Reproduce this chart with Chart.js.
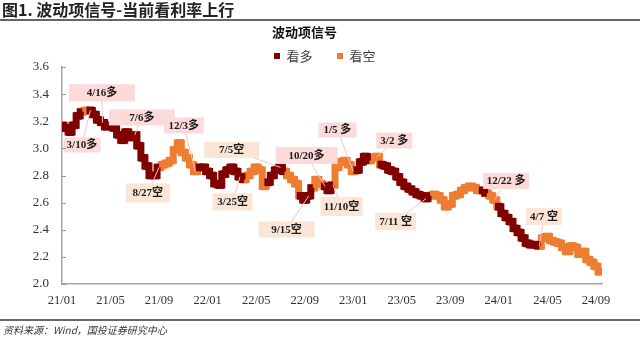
<!DOCTYPE html>
<html><head><meta charset="utf-8">
<script src="https://cdn.jsdelivr.net/npm/chart.js@4"></script>
<style>
html,body{margin:0;padding:0;background:#fff;}
#wrap{position:relative;width:640px;height:338px;overflow:hidden;}
#c{position:absolute;left:0;top:0;}
#pt{position:absolute;left:2px;top:0px;font:bold 16px 'Noto Sans CJK SC',sans-serif;line-height:18px;color:#222;white-space:nowrap;}
#ptl{position:absolute;left:0;top:19px;width:640px;height:2px;background:#666;}
#ct{position:absolute;left:0;width:609px;top:23px;text-align:center;font:bold 13px 'Noto Sans CJK SC',sans-serif;line-height:17px;color:#111;}
#fl{position:absolute;left:0;top:319px;width:640px;height:2px;background:#666;}
#ft{position:absolute;left:3px;top:323px;font:italic 10px 'Noto Sans CJK SC',sans-serif;line-height:13px;color:#333;white-space:nowrap;}
</style></head>
<body>
<div id="wrap">
<canvas id="c" width="640" height="338"></canvas>
<div id="pt">图1. 波动项信号-当前看利率上行</div>
<div id="ptl"></div>
<div id="ct">波动项信号</div>
<div id="fl"></div>
<div id="ft">资料来源：Wind，国投证券研究中心</div>
</div>
<script>
// ---- data ----
const tickMonths = [0,4,8,12,16,20,24,28,32,36,40,44];
const tickLabels = ['21/01','21/05','21/09','22/01','22/05','22/09','23/01','23/05','23/09','24/01','24/05','24/09'];
// 10-day samples (1/3 month) starting 2021-01
const values = [
 3.17,3.15,3.12,3.17,3.24, 3.27,3.28, 3.28,3.25,3.21, 3.19,
 3.16,3.17,3.15,3.10,3.06,3.12,3.08, 3.10,
 3.02,2.93,2.87,2.80,2.80,
 2.86,2.88,2.89,2.91,2.99,3.04,2.97,2.93,2.88,2.83,
 2.86,2.86,2.83,2.80,2.74,2.73,2.81,2.84,2.86,2.83,2.79,
 2.77,2.80,2.83,2.86,2.84,2.72,
 2.75,2.80,2.84,2.86,
 2.83,2.80,2.77,2.74,
 2.65,2.62,2.65,
 2.71,2.77,2.74,
 2.72,2.69,
 2.73,2.86,2.90,2.91,2.88,2.83,
 2.84,2.90,2.94,
 2.91,2.93,2.94,
 2.88,2.87,2.84,2.83,2.79,2.75,2.72,2.70,2.68,2.66,2.65,2.63,
 2.65,2.66,2.65,2.62,2.57,2.59,2.65,2.66,2.69,2.71,2.72,2.71,2.69,
 2.69,
 2.67,2.65,2.62,
 2.57,2.52,2.49,2.46,2.41,2.38,2.34,2.30,2.29,2.29,
 2.28,2.34,2.35,2.32,2.31,2.30,2.27,2.24,2.28,2.27,2.22,2.24,2.18,2.16,2.13,2.09
];
// 1 = 看多, 0 = 看空
const signal = [
 1,1,1,1,1, 0,0, 1,1,1, 0,
 1,1,1,1,1,1,1, 0,
 1,1,1,1,1,
 0,0,0,0,0,0,0,0,0,0,
 1,1,1,1,1,1,1,1,1,1,1,
 0,0,0,0,0,0,
 1,1,1,1,
 0,0,0,0,
 1,1,1,
 0,0,0,
 1,1,
 0,0,0,0,0,0,
 1,1,1,
 0,0,0,
 1,1,1,1,1,1,1,1,1,1,1,1,
 0,0,0,0,0,0,0,0,0,0,0,0,0,
 1,
 0,0,0,
 1,1,1,1,1,1,1,1,1,1,
 0,0,0,0,0,0,0,0,0,0,0,0,0,0,0,0
];
const dates = values.map((_, i) => i / 3);
const seriesNames = ['看多', '看空'];

// annotation labels: text, data index of the signal, label centre (month, value)
const annotations = [
 {text:'3/10多',  i:7,   m:1.64,  v:3.025, w:37, h:15, kind:1},
 {text:'4/16多',  i:10,  m:3.29,  v:3.41,  w:66, h:17, kind:1},
 {text:'7/6多',   i:18,  m:6.58,  v:3.228, w:66, h:16, kind:1},
 {text:'12/3多',  i:33,  m:10.03, v:3.169, w:40, h:16, kind:1},
 {text:'8/27空',  i:24,  m:7.07,  v:2.671, w:44, h:19, kind:0},
 {text:'7/5空',   i:54,  m:13.98, v:2.988, w:55, h:16, kind:0},
 {text:'3/25空',  i:44,  m:14.06, v:2.605, w:40, h:17, kind:0},
 {text:'10/20多', i:65,  m:20.15, v:2.948, w:62, h:17, kind:1},
 {text:'9/15空',  i:61,  m:18.5,  v:2.402, w:56, h:16, kind:0},
 {text:'11/10空', i:67,  m:23.03, v:2.572, w:42, h:19, kind:0},
 {text:'1/5 多',  i:72,  m:22.7,  v:3.136, w:38, h:15, kind:1},
 {text:'3/2 多',  i:78,  m:27.38, v:3.058, w:36, h:16, kind:1},
 {text:'7/11 空', i:90,  m:27.5,  v:2.461, w:41, h:17, kind:0},
 {text:'12/22 多',i:107, m:36.6,  v:2.76,  w:46, h:16, kind:1},
 {text:'4/7 空',  i:118, m:39.72, v:2.498, w:36, h:17, kind:0}
];

const COL_LONG = '#800000';
const COL_SHORT = '#ED7D31';

// a regime's line runs on to the first sample of the next regime (no marker there)
function pts(flag){
  return values.map((v,i)=>{
    const own = signal[i]===flag;
    const tail = i>0 && signal[i-1]===flag;
    return {x:dates[i], y:(own||tail) ? v : null, own};
  });
}

const legendFit = {
  id:'legendFit',
  beforeUpdate(chart){
    const lg = chart.legend;
    if (lg && !lg._patched){
      const orig = lg.fit;
      lg.fit = function(){ orig.call(this); this.height = 42; };
      lg._patched = true;
    }
  },
  afterLayout(chart){
    const lg = chart.legend;
    if (lg){ lg.left = 47.5; lg.right = 602; }
  }
};

const innerTicks = {
  id:'innerTicks',
  afterDraw(chart){
    const {ctx, scales:{y}, chartArea} = chart;
    ctx.save();
    ctx.strokeStyle = '#999'; ctx.lineWidth = 1;
    y.ticks.forEach(t=>{
      const py = Math.round(y.getPixelForValue(t.value)) + 0.5;
      ctx.beginPath(); ctx.moveTo(chartArea.left, py); ctx.lineTo(chartArea.left+4, py); ctx.stroke();
    });
    ctx.restore();
  }
};

const labelPlugin = {
  id:'signalLabels',
  afterDatasetsDraw(chart){
    const {ctx, scales:{x,y}} = chart;
    ctx.save();
    annotations.forEach(a=>{
      const cx = x.getPixelForValue(a.m), cy = y.getPixelForValue(a.v);
      const px = x.getPixelForValue(dates[a.i]), py = y.getPixelForValue(values[a.i]);
      ctx.strokeStyle = '#F7C4C4'; ctx.lineWidth = 1;
      ctx.beginPath(); ctx.moveTo(cx, cy); ctx.lineTo(px, py); ctx.stroke();
    });
    annotations.forEach(a=>{
      const cx = x.getPixelForValue(a.m), cy = y.getPixelForValue(a.v);
      ctx.fillStyle = a.kind ? '#FDDADA' : '#FBE5D6';
      ctx.fillRect(cx - a.w/2, cy - a.h/2, a.w, a.h);
      ctx.fillStyle = '#1a1a1a';
      ctx.font = "bold 11px 'Liberation Serif','Noto Sans CJK SC'";
      ctx.textAlign = 'center'; ctx.textBaseline = 'middle';
      ctx.fillText(a.text, cx, cy + 0.5);
    });
    ctx.restore();
  }
};

function ds(name, flag, col){
  return {label:name, data:pts(flag), backgroundColor:col, borderColor:col,
    showLine:true, stepped:'middle', spanGaps:false, borderWidth:7,
    pointStyle:'rect', pointBorderWidth:0,
    pointRadius:(c)=> (c.raw && c.raw.own) ? 5.5 : 0, pointHoverRadius:0};
}

new Chart(document.getElementById('c'), {
  type:'scatter',
  data:{ datasets:[ ds(seriesNames[0], 1, COL_LONG), ds(seriesNames[1], 0, COL_SHORT) ] },
  options:{
    responsive:false, animation:false, devicePixelRatio:1,
    layout:{padding:{left:20, right:38, top:25, bottom:0}},
    plugins:{
      title:{display:false},
      tooltip:{enabled:false},
      legend:{display:true, position:'top',
        labels:{usePointStyle:true, pointStyle:'rect', boxWidth:6, boxHeight:6, padding:24.5,
          color:'#404040', font:{family:"'Noto Sans CJK SC'", size:13}}}
    },
    scales:{
      x:{type:'linear', min:0, max:44.5,
        afterBuildTicks(s){ s.ticks = tickMonths.map(v=>({value:v})); },
        afterFit(s){ s.height = 54; },
        ticks:{callback:(v,i)=>tickLabels[i], autoSkip:false, maxRotation:0, padding:9,
          color:'#333', font:{family:"'Liberation Serif'", size:12.5}},
        grid:{display:true, drawOnChartArea:false, drawTicks:false},
        border:{display:true, color:'#A6A6A6', width:1.5}
      },
      y:{min:2.0, max:3.6,
        afterFit(s){ s.width = 42; },
        ticks:{stepSize:0.2, callback:v=>Number(v).toFixed(1), padding:13,
          color:'#333', font:{family:"'Liberation Serif'", size:13}},
        grid:{display:true, drawOnChartArea:false, drawTicks:false},
        border:{display:true, color:'#A6A6A6', width:1.5}
      }
    }
  },
  plugins:[legendFit, innerTicks, labelPlugin]
});
</script>
</body></html>
